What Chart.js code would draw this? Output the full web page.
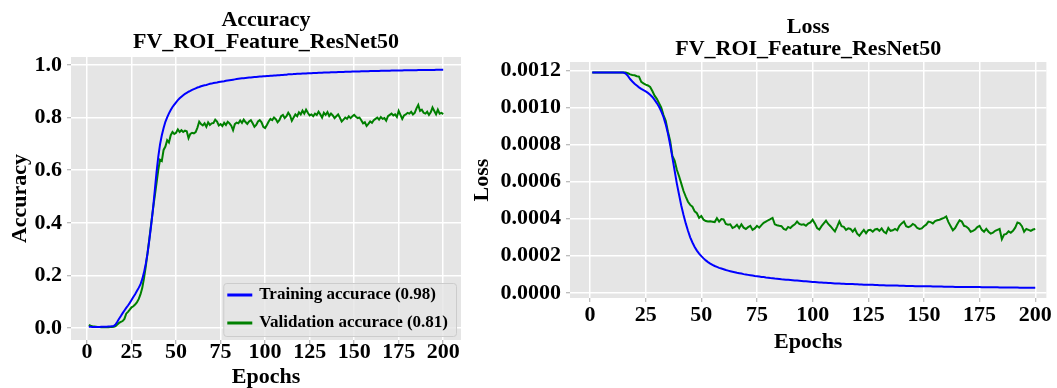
<!DOCTYPE html>
<html>
<head>
<meta charset="utf-8">
<script src="https://cdn.jsdelivr.net/npm/chart.js@4.4.1/dist/chart.umd.min.js"></script>
<style>
    body { margin: 0; background: #ffffff; width: 1057px; height: 388px; overflow: hidden; position: relative; }
    canvas { position: absolute; top: 0; }
    #accChart { left: 0; }
    #lossChart { left: 470px; }
</style>
</head>
<body>
<canvas id="accChart" width="470" height="388"></canvas>
<canvas id="lossChart" width="587" height="388"></canvas>
<script>

// DATA PART (one value per epoch)

var trainAcc = [
    0.005, 0.005, 0.004, 0.004, 0.004, 0.004, 0.004, 0.005, 0.005, 0.005,
    0.005, 0.006, 0.006, 0.007, 0.008, 0.014, 0.024, 0.036, 0.046, 0.057,
    0.067, 0.077, 0.086, 0.096, 0.107, 0.118, 0.129, 0.141, 0.153, 0.166,
    0.186, 0.212, 0.245, 0.285, 0.335, 0.390, 0.450, 0.520, 0.590, 0.651,
    0.698, 0.733, 0.760, 0.784, 0.801, 0.816, 0.829, 0.840, 0.849, 0.858,
    0.866, 0.873, 0.879, 0.885, 0.890, 0.894, 0.898, 0.901, 0.905, 0.908,
    0.911, 0.914, 0.916, 0.919, 0.921, 0.923, 0.924, 0.926, 0.928, 0.929,
    0.931, 0.932, 0.933, 0.935, 0.936, 0.937, 0.938, 0.940, 0.941, 0.942,
    0.943, 0.944, 0.945, 0.946, 0.947, 0.948, 0.949, 0.949, 0.950, 0.951,
    0.952, 0.952, 0.953, 0.954, 0.954, 0.955, 0.956, 0.956, 0.957, 0.957,
    0.958, 0.958, 0.959, 0.959, 0.960, 0.960, 0.961, 0.961, 0.962, 0.962,
    0.963, 0.963, 0.964, 0.964, 0.964, 0.965, 0.965, 0.966, 0.966, 0.966,
    0.967, 0.967, 0.967, 0.968, 0.968, 0.968, 0.969, 0.969, 0.969, 0.970,
    0.970, 0.970, 0.971, 0.971, 0.971, 0.971, 0.972, 0.972, 0.972, 0.972,
    0.973, 0.973, 0.973, 0.973, 0.974, 0.974, 0.974, 0.974, 0.975, 0.975,
    0.975, 0.975, 0.975, 0.976, 0.976, 0.976, 0.976, 0.976, 0.977, 0.977,
    0.977, 0.977, 0.977, 0.977, 0.978, 0.978, 0.978, 0.978, 0.978, 0.978,
    0.979, 0.979, 0.979, 0.979, 0.979, 0.979, 0.979, 0.980, 0.980, 0.980,
    0.980, 0.980, 0.980, 0.980, 0.980, 0.981, 0.981, 0.981, 0.981, 0.981,
    0.981, 0.981, 0.981, 0.981, 0.981, 0.982, 0.982, 0.982, 0.982, 0.982
];

var valAcc = [
    0.012, 0.009, 0.007, 0.006, 0.005, 0.004, 0.004, 0.003, 0.003, 0.003,
    0.003, 0.003, 0.004, 0.004, 0.005, 0.008, 0.014, 0.020, 0.024, 0.027,
    0.035, 0.055, 0.062, 0.070, 0.079, 0.083, 0.090, 0.098, 0.110, 0.128,
    0.152, 0.190, 0.235, 0.287, 0.340, 0.395, 0.450, 0.500, 0.550, 0.600,
    0.640, 0.635, 0.677, 0.690, 0.714, 0.705, 0.733, 0.745, 0.738, 0.742,
    0.755, 0.745, 0.752, 0.745, 0.750, 0.748, 0.722, 0.738, 0.742, 0.740,
    0.745, 0.762, 0.784, 0.775, 0.770, 0.778, 0.765, 0.782, 0.772, 0.778,
    0.779, 0.792, 0.785, 0.770, 0.775, 0.768, 0.780, 0.772, 0.784, 0.778,
    0.769, 0.752, 0.775, 0.781, 0.778, 0.789, 0.780, 0.792, 0.783, 0.776,
    0.785, 0.790, 0.778, 0.765, 0.772, 0.785, 0.790, 0.782, 0.765, 0.760,
    0.772, 0.785, 0.795, 0.790, 0.800, 0.794, 0.782, 0.790, 0.805, 0.810,
    0.798, 0.805, 0.818, 0.808, 0.788, 0.800, 0.812, 0.805, 0.820, 0.812,
    0.826, 0.815, 0.830, 0.818, 0.808, 0.812, 0.805, 0.815, 0.810, 0.822,
    0.812, 0.800, 0.818, 0.810, 0.821, 0.806, 0.815, 0.808, 0.798, 0.805,
    0.812, 0.799, 0.785, 0.792, 0.800, 0.795, 0.805, 0.798, 0.805, 0.810,
    0.803, 0.798, 0.800, 0.790, 0.778, 0.782, 0.768, 0.776, 0.785, 0.780,
    0.790, 0.795, 0.800, 0.792, 0.802, 0.795, 0.798, 0.788, 0.805, 0.810,
    0.815, 0.808, 0.812, 0.802, 0.825, 0.810, 0.795, 0.808, 0.812, 0.818,
    0.815, 0.822, 0.812, 0.818, 0.835, 0.848, 0.825, 0.830, 0.818, 0.815,
    0.822, 0.810, 0.820, 0.838, 0.825, 0.812, 0.830, 0.815, 0.818, 0.813
];

var trainLoss = [
    0.00119, 0.00119, 0.00119, 0.00119, 0.00119, 0.00119, 0.00119, 0.00119, 0.00119, 0.00119,
    0.00119, 0.00119, 0.00119, 0.00119, 0.00119, 0.001185, 0.001172, 0.001155, 0.001142, 0.00113,
    0.00112, 0.00111, 0.001102, 0.001095, 0.001088, 0.00108, 0.00107, 0.001058, 0.001042, 0.001025,
    0.001005, 0.00098, 0.00095, 0.00091, 0.00086, 0.0008, 0.00073, 0.00066, 0.00059, 0.00053,
    0.00047, 0.00042, 0.000375, 0.000335, 0.0003, 0.000272, 0.000248, 0.000228, 0.000212, 0.000198,
    0.000186, 0.000175, 0.000166, 0.000158, 0.000151, 0.000145, 0.00014, 0.000135, 0.000131, 0.000127,
    0.000123, 0.00012, 0.000117, 0.000114, 0.000111, 0.000108, 0.000106, 0.000104, 0.000101, 0.000099,
    0.000097, 0.000095, 0.000093, 0.000091, 0.00009, 0.000088, 0.000086, 0.000085, 0.000083, 0.000082,
    0.00008, 0.000079, 0.000077, 0.000076, 0.000075, 0.000073, 0.000072, 0.000071, 0.00007, 0.000069,
    0.000068, 0.000067, 0.000066, 0.000065, 0.000064, 0.000063, 0.000062, 0.000061, 0.00006, 0.000059,
    0.000058, 0.000057, 0.000056, 0.000056, 0.000055, 0.000054, 0.000053, 0.000053, 0.000052, 0.000051,
    0.000051, 0.00005, 0.000049, 0.000049, 0.000048, 0.000048, 0.000047, 0.000047, 0.000046, 0.000046,
    0.000045, 0.000045, 0.000044, 0.000044, 0.000043, 0.000043, 0.000043, 0.000042, 0.000042, 0.000041,
    0.000041, 0.000041, 0.00004, 0.00004, 0.00004, 0.000039, 0.000039, 0.000039, 0.000038, 0.000038,
    0.000038, 0.000037, 0.000037, 0.000037, 0.000037, 0.000036, 0.000036, 0.000036, 0.000036, 0.000035,
    0.000035, 0.000035, 0.000035, 0.000034, 0.000034, 0.000034, 0.000034, 0.000034, 0.000033, 0.000033,
    0.000033, 0.000033, 0.000033, 0.000032, 0.000032, 0.000032, 0.000032, 0.000032, 0.000032, 0.000031,
    0.000031, 0.000031, 0.000031, 0.000031, 0.000031, 0.00003, 0.00003, 0.00003, 0.00003, 0.00003,
    0.00003, 0.00003, 0.00003, 0.000029, 0.000029, 0.000029, 0.000029, 0.000029, 0.000029, 0.000029,
    0.000029, 0.000029, 0.000028, 0.000028, 0.000028, 0.000028, 0.000028, 0.000028, 0.000028, 0.000028
];

var valLoss = [
    0.00119, 0.00119, 0.00119, 0.00119, 0.00119, 0.00119, 0.00119, 0.00119, 0.00119, 0.00119,
    0.00119, 0.00119, 0.00119, 0.00119, 0.00119, 0.00119, 0.001186, 0.00118, 0.001177, 0.001175,
    0.00117, 0.001168, 0.00114, 0.001132, 0.001125, 0.00112, 0.001112, 0.00109, 0.001065, 0.001048,
    0.001025, 0.001, 0.00096, 0.00093, 0.00087, 0.00082, 0.00074, 0.000715, 0.000665, 0.00063,
    0.00059, 0.00055, 0.00052, 0.000492, 0.000475, 0.000465, 0.00044, 0.00043, 0.000405, 0.000415,
    0.000395, 0.000388, 0.000385, 0.000386, 0.000384, 0.000382, 0.000403, 0.000385, 0.000398, 0.000397,
    0.000372, 0.000368, 0.00037, 0.00035, 0.000356, 0.000368, 0.00035, 0.00037, 0.000352, 0.000345,
    0.000355, 0.000362, 0.00034, 0.000348, 0.000362, 0.000352, 0.000366, 0.000378, 0.000385, 0.000392,
    0.000398, 0.000405, 0.00037, 0.000365, 0.000362, 0.00036, 0.000345, 0.00034, 0.000356, 0.00035,
    0.000362, 0.00037, 0.000385, 0.000372, 0.000368, 0.00037, 0.000362, 0.000374, 0.00038, 0.000395,
    0.000375, 0.00035, 0.000342, 0.00036, 0.000375, 0.00039, 0.000372, 0.00036, 0.000345, 0.000332,
    0.000358, 0.000386, 0.00036, 0.000356, 0.00034, 0.000348, 0.000345, 0.00033, 0.000345, 0.00032,
    0.000308, 0.000325, 0.00034, 0.000322, 0.000338, 0.00034, 0.00033, 0.000342, 0.000345, 0.000335,
    0.000348, 0.00033, 0.000322, 0.00035, 0.000335, 0.000338, 0.000345, 0.000338, 0.000362, 0.000375,
    0.000385, 0.00036, 0.000355, 0.00036, 0.000372, 0.000365, 0.00035, 0.000345, 0.000348, 0.00036,
    0.000368, 0.000385, 0.000382, 0.000375, 0.000388, 0.000392, 0.000395, 0.0004, 0.000405, 0.000412,
    0.000382, 0.00036, 0.000338, 0.00035, 0.000372, 0.000392, 0.000385, 0.000362, 0.000358, 0.000348,
    0.00033, 0.000335, 0.000342, 0.000355, 0.000362, 0.00034, 0.00033, 0.000345, 0.00033, 0.00032,
    0.000325, 0.000335, 0.00034, 0.000345, 0.00029, 0.000315, 0.000318, 0.000332, 0.000325, 0.000335,
    0.000352, 0.00038, 0.000375, 0.00036, 0.00033, 0.000345, 0.00034, 0.000335, 0.000342, 0.000345
];

var epochTicks = [0, 25, 50, 75, 100, 125, 150, 175, 200];
var accTicks = [0, 0.2, 0.4, 0.6, 0.8, 1.0];
var lossTicks = [0, 0.0002, 0.0004, 0.0006, 0.0008, 0.0010, 0.0012];

var accLabels = ['Training accurace (0.98)', 'Validation accurace (0.81)'];
var lossLabels = ['Training loss', 'Validation loss'];

var epochs = [];
for (var i = 1; i <= trainAcc.length; i++) {
    epochs.push(i);
}

// STYLE PART

var serif = '"Liberation Serif", "Times New Roman", serif';
var blue = '#0000FF';
var green = '#008000';

var tickFont = { family: serif, size: 22, weight: 'bold', lineHeight: 0.8 };
var titleFont = { family: serif, size: 22, weight: 'bold', lineHeight: 1 };

var gridStyle = {
    color: '#FFFFFF',
    lineWidth: 1.5,
    tickColor: '#A6A6A6',
    tickLength: 4,
    tickWidth: 1
};

// PLUGIN PARTS

var plotBackground = {
    id: 'plotBackground',
    beforeDraw: (chart) => {
        var a = chart.chartArea;
        var ctx = chart.ctx;
        ctx.save();
        ctx.fillStyle = '#E5E5E5';
        ctx.fillRect(a.left, a.top, a.right - a.left, a.bottom - a.top);
        ctx.restore();
    }
};

// legend drawn inside the plot, lower right corner
var insideLegend = {
    id: 'insideLegend',
    afterDraw: (chart) => {
        var ctx = chart.ctx;
        var a = chart.chartArea;
        var sets = chart.data.datasets;

        ctx.save();
        ctx.font = 'bold 17px ' + serif;
        var textW = 0;
        sets.forEach(d => {
            textW = Math.max(textW, ctx.measureText(d.label).width);
        });

        var rowH = 28;
        var w = 4 + 25 + 7 + textW + 8;
        var h = sets.length * rowH - 3;
        var x = a.right - 5 - w;
        var y = a.bottom - 4 - h;

        ctx.fillStyle = 'rgba(229, 229, 229, 0.8)';
        ctx.strokeStyle = '#CCCCCC';
        ctx.lineWidth = 1;
        ctx.beginPath();
        ctx.roundRect(x + 0.5, y + 0.5, w, h, 3);
        ctx.fill();
        ctx.stroke();

        sets.forEach((d, i) => {
            var cy = y + 12 + i * rowH;
            ctx.strokeStyle = d.borderColor;
            ctx.lineWidth = 3;
            ctx.beginPath();
            ctx.moveTo(x + 4, cy);
            ctx.lineTo(x + 29, cy);
            ctx.stroke();

            ctx.fillStyle = '#000000';
            ctx.textBaseline = 'middle';
            ctx.textAlign = 'left';
            ctx.fillText(d.label, x + 36, cy);
        });
        ctx.restore();
    }
};

// FUNCTION PARTS

function toPoints(values){
    return values.map((v, i) => ({ x: epochs[i], y: v }));
}

function makeLineSet(label, values, color){
    return {
        label: label,
        data: toPoints(values),
        borderColor: color,
        backgroundColor: color,
        borderWidth: 2,
        pointRadius: 0,
        tension: 0,
        fill: false
    };
}

function makeChart(canvasId, setup){

    var ctx = document.getElementById(canvasId).getContext('2d');

    return new Chart(ctx, {
        type: 'line',
        data: {
            datasets: setup.datasets
        },
        plugins: setup.plugins,
        options: {
            responsive: false,
            animation: false,
            devicePixelRatio: 1,
            layout: { padding: setup.padding },
            plugins: {
                legend: { display: false },
                tooltip: { enabled: false },
                title: {
                    display: true,
                    text: setup.title,
                    color: '#000000',
                    font: titleFont,
                    fullSize: false,
                    padding: setup.titlePadding
                }
            },
            scales: {
                x: {
                    type: 'linear',
                    min: setup.xMin,
                    max: setup.xMax,
                    afterBuildTicks: (s) => { s.ticks = epochTicks.map(v => ({ value: v })); },
                    afterFit: (s) => { s.height = setup.xHeight; },
                    grid: gridStyle,
                    border: { display: false },
                    ticks: {
                        color: '#000000',
                        font: tickFont,
                        padding: setup.xTickPad,
                        maxRotation: 0,
                        autoSkip: false
                    },
                    title: {
                        display: true,
                        text: 'Epochs',
                        color: '#000000',
                        font: titleFont,
                        padding: { top: 0, bottom: 0 }
                    }
                },
                y: {
                    type: 'linear',
                    min: setup.yMin,
                    max: setup.yMax,
                    afterBuildTicks: (s) => { s.ticks = setup.yTicks.map(v => ({ value: v })); },
                    afterFit: (s) => { s.width = setup.yWidth; },
                    grid: gridStyle,
                    border: { display: false },
                    ticks: {
                        color: '#000000',
                        font: tickFont,
                        padding: 5,
                        callback: (v) => v.toFixed(setup.decimals)
                    },
                    title: {
                        display: true,
                        text: setup.yTitle,
                        color: '#000000',
                        font: titleFont,
                        padding: { top: setup.yTitlePad, bottom: 0 }
                    }
                }
            }
        }
    });
}

// CHART PARTS

makeChart('accChart', {
    title: ['Accuracy', 'FV_ROI_Feature_ResNet50'],
    titlePadding: { top: 9, bottom: 4 },
    padding: { left: 0, right: 9, top: 0, bottom: 0 },
    datasets: [
        makeLineSet(accLabels[0], trainAcc, blue),
        makeLineSet(accLabels[1], valAcc, green)
    ],
    plugins: [plotBackground, insideLegend],
    xMin: -9, xMax: 210, xHeight: 48, xTickPad: 0,
    yMin: -0.045, yMax: 1.03, yTicks: accTicks, yWidth: 71,
    decimals: 1, yTitle: 'Accuracy', yTitlePad: 9
});

makeChart('lossChart', {
    title: ['Loss', 'FV_ROI_Feature_ResNet50'],
    titlePadding: { top: 16, bottom: 2 },
    padding: { left: 0, right: 9, top: 0, bottom: 35 },
    datasets: [
        makeLineSet(lossLabels[0], trainLoss, blue),
        makeLineSet(lossLabels[1], valLoss, green)
    ],
    plugins: [plotBackground],
    xMin: -9, xMax: 205, xHeight: 55, xTickPad: 5,
    yMin: -0.000028, yMax: 0.001247, yTicks: lossTicks, yWidth: 100,
    decimals: 4, yTitle: 'Loss', yTitlePad: 1
});

</script>
</body>
</html>
